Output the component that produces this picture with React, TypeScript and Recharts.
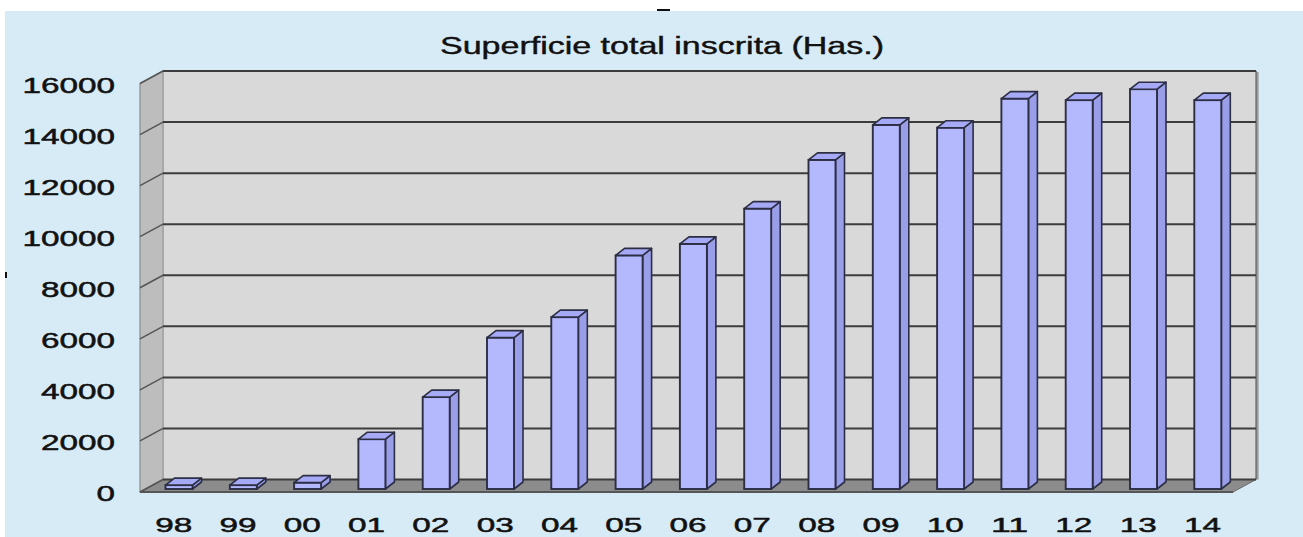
import React from 'react';
import { BarChart, Bar, XAxis, YAxis, CartesianGrid } from 'recharts';

const categories = ['98', '99', '00', '01', '02', '03', '04', '05', '06', '07', '08', '09', '10', '11', '12', '13', '14'];
const superficie = [150, 150, 250, 1950, 3600, 5930, 6730, 9150, 9600, 10980, 12890, 14260, 14150, 15290, 15230, 15660, 15230];
const yTicks = [0, 2000, 4000, 6000, 8000, 10000, 12000, 14000, 16000];
const title = 'Superficie total inscrita (Has.)';

const data = categories.map((c, i) => ({ year: c, value: superficie[i] }));

const W = 1303;
const H = 537;
const PLOT_L = 146.5;
const PLOT_R = 1239.6;
const PLOT_T = 83.5;
const PLOT_B = 492;
const FRONT_SHIFT = 6.5; // bars sit slightly behind the front plane
const DX = 23;
const DY = -12.5;
const FRONT_L = PLOT_L - FRONT_SHIFT;
const FRONT_R = PLOT_R - FRONT_SHIFT;
const BDX = 9;
const BDY = -7;
const BAR_SHIFT_Y = -3;
const FONT = '"Liberation Sans", Arial, Helvetica, sans-serif';

const Bar3D = (props: any) => {
  const { x, y, width, height } = props;
  if (width == null || height == null) return null;
  const top = y + BAR_SHIFT_Y;
  const bottom = y + height + BAR_SHIFT_Y;
  const w = width;
  const stroke = '#2c2e44';
  return (
    <g>
      <polygon
        points={`${x + w},${top} ${x + w + BDX},${top + BDY} ${x + w + BDX},${bottom + BDY} ${x + w},${bottom}`}
        fill="#9a9ee9"
        stroke={stroke}
        strokeWidth={1.6}
        strokeLinejoin="round"
      />
      <rect x={x} y={top} width={w} height={Math.max(bottom - top, 0)} fill="#b4b8fd" stroke={stroke} strokeWidth={1.9} />
      <polygon
        points={`${x},${top} ${x + BDX},${top + BDY} ${x + w + BDX},${top + BDY} ${x + w},${top}`}
        fill="#a6aaf6"
        stroke={stroke}
        strokeWidth={1.6}
        strokeLinejoin="round"
      />
    </g>
  );
};

const YTick = (props: any) => {
  const { y, payload } = props;
  const label = String(payload.value);
  const len = label.length * 18.5;
  return (
    <text
      x={115 - len}
      y={y + 9}
      textLength={len}
      lengthAdjust="spacingAndGlyphs"
      fontFamily={FONT}
      fontSize={22}
      fill="#111"
      stroke="#111"
      strokeWidth={0.5}
    >
      {label}
    </text>
  );
};

const XTick = (props: any) => {
  const { x, payload } = props;
  const label = String(payload.value);
  const len = label.length * 18.5;
  return (
    <text
      x={x - 5 - len / 2}
      y={532}
      textLength={len}
      lengthAdjust="spacingAndGlyphs"
      fontFamily={FONT}
      fontSize={21}
      fill="#111"
      stroke="#111"
      strokeWidth={0.5}
    >
      {label}
    </text>
  );
};

const gridLine = (props: any) => {
  const { y1, index } = props;
  return (
    <g key={`g-${index}`}>
      <line x1={FRONT_L} y1={y1} x2={FRONT_L + DX} y2={y1 + DY} stroke="#555" strokeWidth={1.5} />
      <line x1={FRONT_L + DX} y1={y1 + DY} x2={FRONT_R + DX} y2={y1 + DY} stroke="#3c3c3c" strokeWidth={2} />
    </g>
  );
};

export default function App() {
  const backTop = PLOT_T + DY;
  const backBottom = PLOT_B + DY;
  return (
    <div style={{ position: 'fixed', left: 0, top: 0, width: W, height: H, background: '#fff' }}>
      <div style={{ position: 'absolute', left: 5, top: 11, width: W - 5, height: H - 11, background: '#d7ebf7' }} />
      <div style={{ position: 'absolute', left: 657, top: 9, width: 13, height: 2, background: '#111' }} />
      <div style={{ position: 'absolute', left: 5, top: 272, width: 2, height: 6, background: '#111' }} />
      <svg width={W} height={H} style={{ position: 'absolute', left: 0, top: 0 }}>
        {/* back wall */}
        <rect
          x={FRONT_L + DX}
          y={backTop}
          width={FRONT_R - FRONT_L}
          height={backBottom - backTop}
          fill="#d9d9d9"
        />
        <line x1={FRONT_R + DX + 1.5} y1={backTop + 1} x2={FRONT_R + DX + 1.5} y2={backBottom} stroke="#9a9a9a" strokeWidth={2} />
        <line x1={FRONT_R + DX} y1={backTop} x2={FRONT_R + DX} y2={backBottom} stroke="#666" strokeWidth={1.4} />
        {/* left wall */}
        <polygon
          points={`${FRONT_L},${PLOT_T} ${FRONT_L + DX},${backTop} ${FRONT_L + DX},${backBottom} ${FRONT_L},${PLOT_B}`}
          fill="#bdbdbd"
          stroke="#8a8a8a"
          strokeWidth={1.2}
        />
        <line x1={FRONT_L + DX} y1={backTop} x2={FRONT_L + DX} y2={backBottom} stroke="#a8a8a8" strokeWidth={1.5} />
        {/* floor */}
        <polygon
          points={`${FRONT_L},${PLOT_B} ${FRONT_R},${PLOT_B} ${FRONT_R + DX},${backBottom} ${FRONT_L + DX},${backBottom}`}
          fill="#8c8c8c"
          stroke="#6a6a6a"
          strokeWidth={1}
        />
        <line x1={FRONT_L} y1={PLOT_B} x2={FRONT_R} y2={PLOT_B} stroke="#555" strokeWidth={1.8} />
        <text
          x={440}
          y={54}
          textLength={444}
          lengthAdjust="spacingAndGlyphs"
          fontFamily={FONT}
          fontSize={23}
          fill="#111"
          stroke="#111"
          strokeWidth={0.4}
        >
          {title}
        </text>
      </svg>
      <div style={{ position: 'absolute', left: 0, top: 0 }}>
        <BarChart
          width={W}
          height={H}
          data={data}
          margin={{ top: PLOT_T, right: W - PLOT_R, bottom: 0, left: 0 }}
          barCategoryGap={0}
        >
          <CartesianGrid vertical={false} horizontal={gridLine} />
          <XAxis
            dataKey="year"
            height={H - PLOT_B}
            axisLine={false}
            tickLine={false}
            interval={0}
            tick={<XTick />}
          />
          <YAxis
            width={PLOT_L}
            domain={[0, 16000]}
            ticks={yTicks}
            axisLine={false}
            tickLine={false}
            interval={0}
            tick={<YTick />}
          />
          <Bar dataKey="value" barSize={27} shape={<Bar3D />} isAnimationActive={false} />
        </BarChart>
      </div>
    </div>
  );
}
